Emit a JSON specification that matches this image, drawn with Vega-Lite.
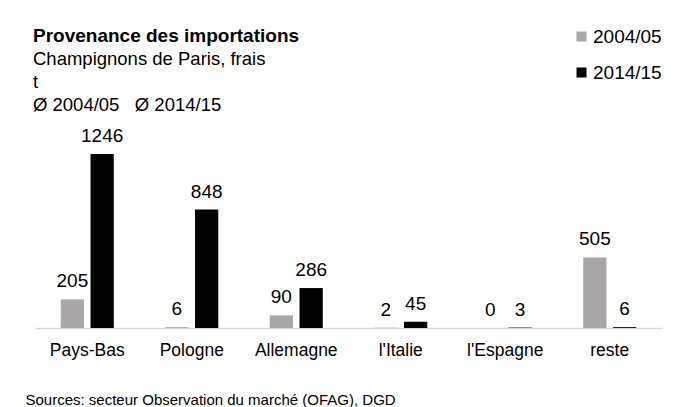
{
  "$schema": "https://vega.github.io/schema/vega-lite/v6.json",
  "width": 627,
  "height": 193,
  "autosize": "none",
  "padding": {"left": 35, "top": 135, "right": 16, "bottom": 79},
  "background": "white",
  "config": {
    "font": "Liberation Sans",
    "view": {"stroke": null}
  },
  "title": {
    "text": "Provenance des importations",
    "subtitle": ["Champignons de Paris, frais", "t", "Ø 2004/05\u00a0\u00a0 Ø 2014/15"],
    "anchor": "start",
    "frame": "group",
    "dx": -2,
    "dy": 106,
    "offset": 18,
    "fontSize": 19,
    "fontWeight": "bold",
    "color": "black",
    "subtitleFontSize": 18.5,
    "subtitleColor": "black",
    "subtitleLineHeight": 23.3,
    "subtitlePadding": 4
  },
  "data": {
    "values": [
      {"pays": "Pays-Bas", "periode": "2004/05", "valeur": 205},
      {"pays": "Pays-Bas", "periode": "2014/15", "valeur": 1246},
      {"pays": "Pologne", "periode": "2004/05", "valeur": 6},
      {"pays": "Pologne", "periode": "2014/15", "valeur": 848},
      {"pays": "Allemagne", "periode": "2004/05", "valeur": 90},
      {"pays": "Allemagne", "periode": "2014/15", "valeur": 286},
      {"pays": "l'Italie", "periode": "2004/05", "valeur": 2},
      {"pays": "l'Italie", "periode": "2014/15", "valeur": 45},
      {"pays": "l'Espagne", "periode": "2004/05", "valeur": 0},
      {"pays": "l'Espagne", "periode": "2014/15", "valeur": 3},
      {"pays": "reste", "periode": "2004/05", "valeur": 505},
      {"pays": "reste", "periode": "2014/15", "valeur": 6}
    ]
  },
  "encoding": {
    "x": {
      "field": "pays",
      "type": "nominal",
      "sort": ["Pays-Bas", "Pologne", "Allemagne", "l'Italie", "l'Espagne", "reste"],
      "scale": {"paddingInner": 0, "paddingOuter": 0},
      "axis": {
        "title": "Sources: secteur Observation du marché (OFAG), DGD",
        "titleAnchor": "start",
        "titleAlign": "left",
        "titleBaseline": "alphabetic",
        "titleX": -10,
        "titleY": 76,
        "titleFontSize": 15,
        "titleFontWeight": "normal",
        "titleColor": "black",
        "labelAngle": 0,
        "labelFontSize": 17.5,
        "labelColor": "black",
        "labelPadding": 13,
        "ticks": false,
        "domainColor": "#d9d9d9",
        "domainWidth": 1.5
      }
    },
    "xOffset": {
      "field": "periode",
      "type": "nominal",
      "scale": {"paddingInner": 0.22, "paddingOuter": 0.863}
    },
    "y": {
      "field": "valeur",
      "type": "quantitative",
      "scale": {"domain": [0, 1382]},
      "axis": null
    }
  },
  "layer": [
    {
      "mark": {"type": "bar"},
      "encoding": {
        "color": {
          "field": "periode",
          "type": "nominal",
          "scale": {"domain": ["2004/05", "2014/15"], "range": ["#aaa6a5", "#000000"]},
          "legend": {
            "title": null,
            "orient": "none",
            "legendX": 537,
            "legendY": -108,
            "symbolType": "square",
            "symbolSize": 100,
            "symbolStrokeWidth": 0,
            "labelFontSize": 19,
            "labelColor": "black",
            "labelOffset": 2,
            "rowPadding": 16
          }
        }
      }
    },
    {
      "mark": {"type": "text", "baseline": "alphabetic", "dy": -12, "fontSize": 19, "color": "black"},
      "encoding": {
        "text": {"field": "valeur", "type": "quantitative"}
      }
    }
  ]
}
